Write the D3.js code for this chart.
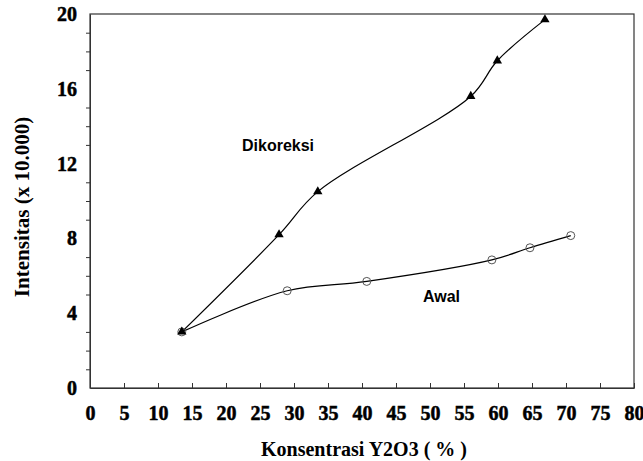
<!DOCTYPE html>
<html>
<head>
<meta charset="utf-8">
<script src="https://cdn.jsdelivr.net/npm/d3@7"></script>
<style>
  body { margin: 0; background: #fff; }
  svg { display: block; }
</style>
</head>
<body>
<svg id="chart" width="643" height="461"></svg>
<script>
'use strict';

// data
var koreksiX = [13.5, 27.8, 33.5, 56.0, 59.9, 66.9];
var koreksiY = [3.0, 8.2, 10.5, 15.6, 17.5, 19.7];
var awalX = [13.5, 29.0, 40.7, 59.1, 64.7, 70.7];
var awalY = [3.0, 5.2, 5.7, 6.85, 7.5, 8.15];
var xTicks = [0, 5, 10, 15, 20, 25, 30, 35, 40, 45, 50, 55, 60, 65, 70, 75, 80];
var yLabelTicks = [0, 4, 8, 12, 16, 20];
var yMinorTicks = [1, 2, 3, 5, 6, 7, 9, 10, 11, 13, 14, 15, 17, 18, 19];
var seriesNames = ['Dikoreksi', 'Awal'];

(function () {
    var svg = d3.select('#chart');
    var x = d3.scaleLinear().domain([0, 80]).range([90, 634]);
    var y = d3.scaleLinear().domain([0, 20]).range([388, 14]);

    var serif = '"Liberation Serif", "Times New Roman", serif';
    var sans = '"Liberation Sans", Arial, sans-serif';

    function boldLabel(sel) {
        sel.style('font-family', serif).style('font-weight', 'bold')
            .style('font-size', '20px').style('fill', '#000')
            .style('stroke', '#000').style('stroke-width', '0.5px');
    }

    // frame
    svg.append('rect')
        .attr('x', x(0)).attr('y', y(20))
        .attr('width', x(80) - x(0)).attr('height', y(0) - y(20))
        .attr('fill', 'none').attr('stroke', '#333').attr('stroke-width', 1.2);

    // x axis, ticks pointing up
    var gx = svg.append('g')
        .attr('transform', 'translate(0,' + y(0) + ')')
        .call(d3.axisBottom(x).tickValues(xTicks).tickSizeInner(-5).tickSizeOuter(0));
    gx.attr('font-family', null).attr('font-size', null);
    gx.select('.domain').attr('stroke', '#333');
    gx.selectAll('.tick line').attr('stroke', '#333');
    gx.selectAll('.tick text').attr('y', 32).attr('dy', null).call(boldLabel);

    // y axis minor ticks pointing out
    var gyMinor = svg.append('g')
        .attr('transform', 'translate(' + x(0) + ',0)')
        .call(d3.axisLeft(y).tickValues(yMinorTicks).tickSize(4).tickSizeOuter(0).tickFormat(''));
    gyMinor.select('.domain').attr('stroke', '#333');
    gyMinor.selectAll('.tick line').attr('stroke', '#333');

    // y labels
    var gy = svg.append('g')
        .attr('transform', 'translate(' + x(0) + ',0)')
        .call(d3.axisLeft(y).tickValues(yLabelTicks).tickSize(0).tickPadding(13));
    gy.attr('font-family', null).attr('font-size', null);
    gy.select('.domain').remove();
    gy.selectAll('.tick text').call(boldLabel);

    // axis titles
    svg.append('text')
        .attr('x', 364).attr('y', 456)
        .attr('text-anchor', 'middle')
        .attr('font-family', serif).attr('font-weight', 'bold').attr('font-size', 20)
        .text('Konsentrasi Y2O3 ( % )');

    svg.append('text')
        .attr('transform', 'translate(29,207) rotate(-90)')
        .attr('text-anchor', 'middle')
        .attr('font-family', serif).attr('font-weight', 'bold').attr('font-size', 21)
        .text('Intensitas (x 10.000)');

    var line = d3.line()
        .x(function (d) { return x(d[0]); })
        .y(function (d) { return y(d[1]); })
        .curve(d3.curveCatmullRom.alpha(0.5));

    var koreksi = d3.zip(koreksiX, koreksiY);
    var awal = d3.zip(awalX, awalY);

    svg.append('path').datum(koreksi).attr('d', line)
        .attr('fill', 'none').attr('stroke', '#000').attr('stroke-width', 1.2);
    svg.append('path').datum(awal).attr('d', line)
        .attr('fill', 'none').attr('stroke', '#000').attr('stroke-width', 1.2);

    // markers
    svg.selectAll('circle.awal').data(awal).enter().append('circle')
        .attr('class', 'awal')
        .attr('cx', function (d) { return x(d[0]); })
        .attr('cy', function (d) { return y(d[1]); })
        .attr('r', 4)
        .attr('fill', 'none').attr('stroke', '#555').attr('stroke-width', 1);

    var tri = d3.symbol().type(d3.symbolTriangle).size(38);
    svg.selectAll('path.koreksi').data(koreksi).enter().append('path')
        .attr('class', 'koreksi')
        .attr('transform', function (d) { return 'translate(' + x(d[0]) + ',' + y(d[1]) + ')'; })
        .attr('d', tri)
        .attr('fill', '#000');

    // series labels
    svg.append('text')
        .attr('x', 242).attr('y', 151)
        .attr('font-family', sans).attr('font-weight', 'bold').attr('font-size', 16)
        .text(seriesNames[0]);
    svg.append('text')
        .attr('x', 423).attr('y', 302)
        .attr('font-family', sans).attr('font-weight', 'bold').attr('font-size', 16)
        .text(seriesNames[1]);
})();
</script>
</body>
</html>
